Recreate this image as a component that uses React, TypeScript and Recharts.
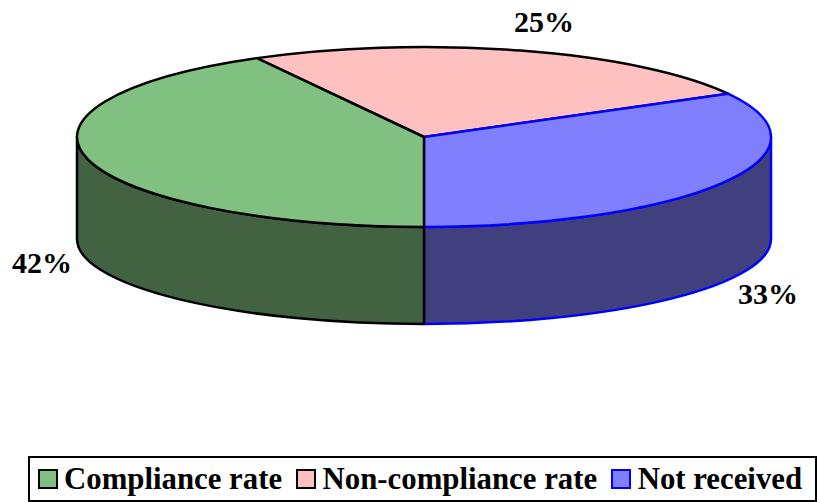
import React from "react";
import { PieChart, Pie, Legend } from "recharts";

const categories = ["Compliance rate", "Non-compliance rate", "Not received"];
const values = [42, 25, 33];
const topColors = ["#80C080", "#FFC0C0", "#8080FF"];
const wallColors = ["#426342", "#634A4A", "#40407E"];
const strokeColors = ["#000000", "#000000", "#0000FF"];

// Paint order: pink, blue, green, so that the black edges lie over the blue ones.
const paintOrder = [1, 2, 0];
const rows = paintOrder.map((i) => ({
  name: categories[i],
  value: values[i],
  fill: topColors[i],
  wall: wallColors[i],
  line: strokeColors[i],
}));

const FONT = "'Liberation Serif', 'Times New Roman', serif";
const CX = 424;
const CY = 137;
const RX = 347;
const RY = 90;
const EDGE_DEPTH = 102;
const BOTTOM_RY = 85;
const START = -90 - (360 * values[0]) / 100;
const STROKE_W = 2.5;

const LABEL_NUDGE: Record<string, [number, number]> = {
  "Compliance rate": [-382, 136],
  "Non-compliance rate": [120, -105],
  "Not received": [344, 167],
};

const ratio = RY / RX;
const pt = (cx: number, cy: number, r: number, deg: number): [number, number] => {
  const a = (deg * Math.PI) / 180;
  return [cx + r * Math.cos(a), cy - r * ratio * Math.sin(a)];
};

const arcTo = (r: number, ry: number, x: number, y: number, sweep: number, large = 0) =>
  `A ${r} ${ry} 0 ${large} ${sweep} ${x} ${y}`;

function TopSlice(props: any) {
  const { cx, cy, outerRadius: r, startAngle, endAngle, payload } = props;
  const [x0, y0] = pt(cx, cy, r, startAngle);
  const [x1, y1] = pt(cx, cy, r, endAngle);
  const large = Math.abs(endAngle - startAngle) > 180 ? 1 : 0;
  const d = `M ${cx} ${cy} L ${x0} ${y0} ${arcTo(r, RY, x1, y1, 1, large)} Z`;
  return <path d={d} fill={payload.fill} stroke={payload.line} strokeWidth={STROKE_W} strokeLinejoin="round" />;
}

function WallSlice(props: any) {
  const { cx, cy, outerRadius: r, startAngle, endAngle, payload } = props;
  // The wall is only visible on the front half of the ellipse.
  const hi = Math.min(startAngle, -360);
  const lo = Math.max(endAngle, -540);
  if (hi <= lo) return <g />;
  const [x0, y0] = pt(cx, cy, r, hi);
  const [x1, y1] = pt(cx, cy, r, lo);
  const bottomY = (deg: number) => cy + EDGE_DEPTH - BOTTOM_RY * Math.sin((deg * Math.PI) / 180);
  const d = `M ${x0} ${y0} ${arcTo(r, RY, x1, y1, 1)} L ${x1} ${bottomY(lo)} ${arcTo(r, BOTTOM_RY, x0, bottomY(hi), 0)} Z`;
  return <path d={d} fill={payload.wall} stroke={payload.line} strokeWidth={STROKE_W} strokeLinejoin="round" />;
}

function PercentLabel(props: any) {
  const { cx, cy, name, value } = props;
  const [dx, dy] = LABEL_NUDGE[name] ?? [0, 0];
  return (
    <text
      x={cx + dx}
      y={cy + dy}
      textAnchor="middle"
      fill="#000"
      fontFamily={FONT}
      fontWeight="bold"
      fontSize={30}
    >
      {`${value}%`}
    </text>
  );
}

function LegendBox() {
  return (
    <div
      style={{
        boxSizing: "border-box",
        width: 789,
        height: 46,
        border: "2.5px solid #000",
        background: "#fff",
        display: "flex",
        alignItems: "center",
        paddingLeft: 7.5,
        fontFamily: FONT,
        fontWeight: "bold",
        fontSize: 30.8,
        color: "#000",
        whiteSpace: "nowrap",
      }}
    >
      {categories.map((c, i) => (
        <div key={c} style={{ display: "flex", alignItems: "center", marginRight: 14 }}>
          <span
            style={{
              boxSizing: "border-box",
              display: "inline-block",
              width: 20,
              height: 20,
              background: topColors[i],
              border: `2px solid ${strokeColors[i]}`,
              marginRight: 6.5,
            }}
          />
          <span>{c}</span>
        </div>
      ))}
    </div>
  );
}

export default function App() {
  return (
    <div style={{ position: "absolute", left: 0, top: 0, width: 817, height: 502, background: "#fff", overflow: "hidden" }}>
      <PieChart width={817} height={502} margin={{ top: 0, right: 0, bottom: 0, left: 0 }}>
        <Pie
          data={rows}
          dataKey="value"
          nameKey="name"
          cx={CX}
          cy={CY}
          innerRadius={0}
          outerRadius={RX}
          startAngle={START}
          endAngle={START - 360}
          paddingAngle={0}
          legendType="none"
          isAnimationActive={false}
          shape={WallSlice}
        />
        <Pie
          data={rows}
          dataKey="value"
          nameKey="name"
          cx={CX}
          cy={CY}
          innerRadius={0}
          outerRadius={RX}
          startAngle={START}
          endAngle={START - 360}
          paddingAngle={0}
          isAnimationActive={false}
          shape={TopSlice}
          label={PercentLabel}
          labelLine={false}
        />
        <Legend
          content={<LegendBox />}
          wrapperStyle={{ position: "absolute", left: 28, top: 456, width: 789, height: 46, bottom: "auto", right: "auto" }}
        />
      </PieChart>
    </div>
  );
}
